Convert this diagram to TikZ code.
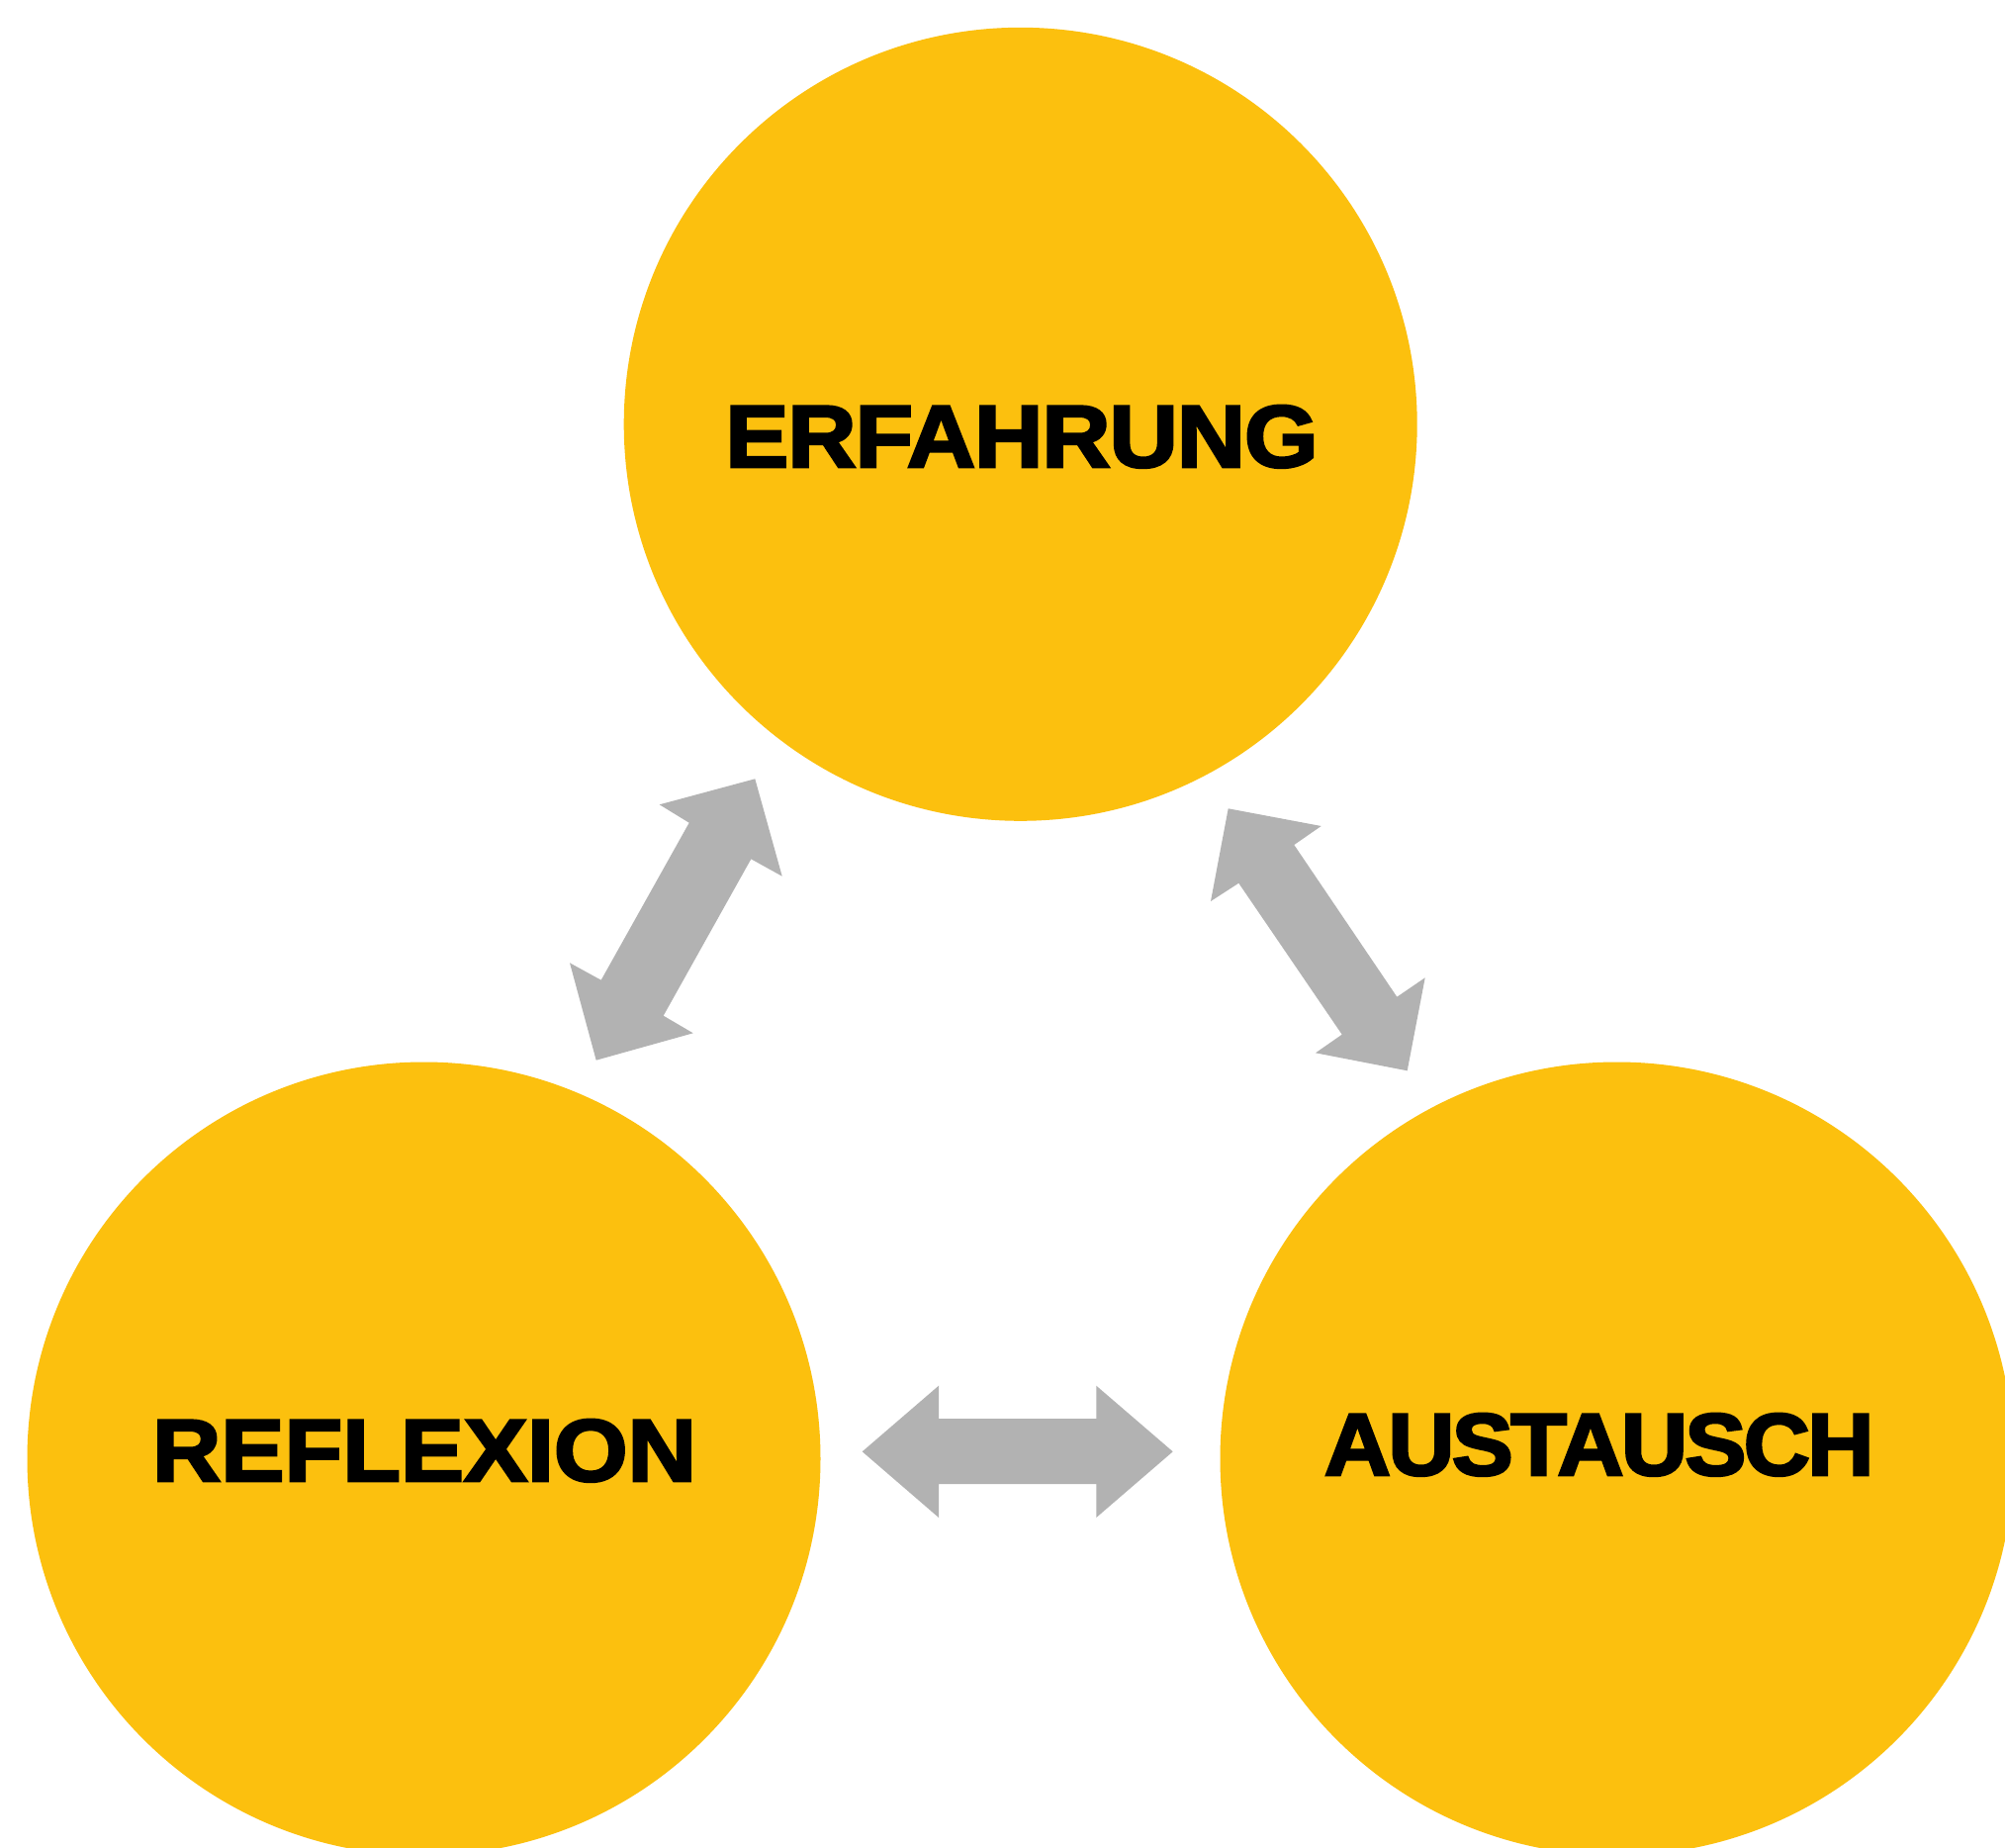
\documentclass[tikz,border=0pt]{standalone}
\usepackage{fontspec}
\setmainfont{Liberation Sans}
\newfontfamily\heavyA[UprightFont=* Bold, FakeBold=3, FakeStretch=1.08, LetterSpace=-1.3]{Liberation Sans}
\newfontfamily\heavyB[UprightFont=* Bold, FakeBold=3, FakeStretch=1.08, LetterSpace=0]{Liberation Sans}
\newfontfamily\heavyC[UprightFont=* Bold, FakeBold=3, FakeStretch=1.045, LetterSpace=-3]{Liberation Sans}
\definecolor{sun}{RGB}{252,192,14}
\definecolor{arrowgray}{RGB}{178,178,178}
\begin{document}
\begin{tikzpicture}[x=1pt,y=-1pt,
  bubble/.style={circle,fill=sun,draw=none,minimum size=802pt,inner sep=0pt},
  blockarrow/.style={fill=arrowgray,draw=none},
  label/.style={anchor=base,inner sep=0pt}]
\useasboundingbox (0,0) rectangle (2027,1868);
\clip (0,0) rectangle (2027,1868);
\fill[white] (0,0) rectangle (2027,1868);
\node[bubble] (erf) at (1031.7,428.8) {};
\node[bubble] (ref) at (428.5,1474.5) {};
\node[bubble] (aus) at (1634.5,1474.5) {};
\node[label,font=\heavyA\fontsize{89}{92}\selectfont] (terf) at (1033,472) {ERFAHRUNG};
\node[label,font=\heavyB\fontsize{89}{92}\selectfont] (tref) at (429,1497) {REFLEXION};
\node[label,font=\heavyC\fontsize{89}{92}\selectfont] (taus) at (1616.6,1491) {AUSTAUSCH};
% arrow ERFAHRUNG <-> REFLEXION
\fill[blockarrow] (763.3,787.3) -- (790.7,885.7) -- (759.3,868.3) -- (670.7,1026.7)
  -- (700.7,1044.3) -- (602.7,1071.7) -- (576,973.3) -- (607.7,990.7)
  -- (696.7,831.7) -- (666.7,813.3) -- cycle;
% arrow ERFAHRUNG <-> AUSTAUSCH
\fill[blockarrow] (1241.7,817.3) -- (1335.7,835) -- (1308.3,854) -- (1412.3,1007.7)
  -- (1440.7,988.3) -- (1422.7,1082.3) -- (1330,1064.3) -- (1356.7,1045.7)
  -- (1252.3,892.7) -- (1224,911) -- cycle;
% arrow REFLEXION <-> AUSTAUSCH
\fill[blockarrow] (871.7,1467.3) -- (949,1400.7) -- (949,1434) -- (1108.3,1434)
  -- (1108.3,1400.7) -- (1185.7,1467.3) -- (1108.3,1534) -- (1108.3,1500)
  -- (949,1500) -- (949,1534) -- cycle;
\end{tikzpicture}
\end{document}
